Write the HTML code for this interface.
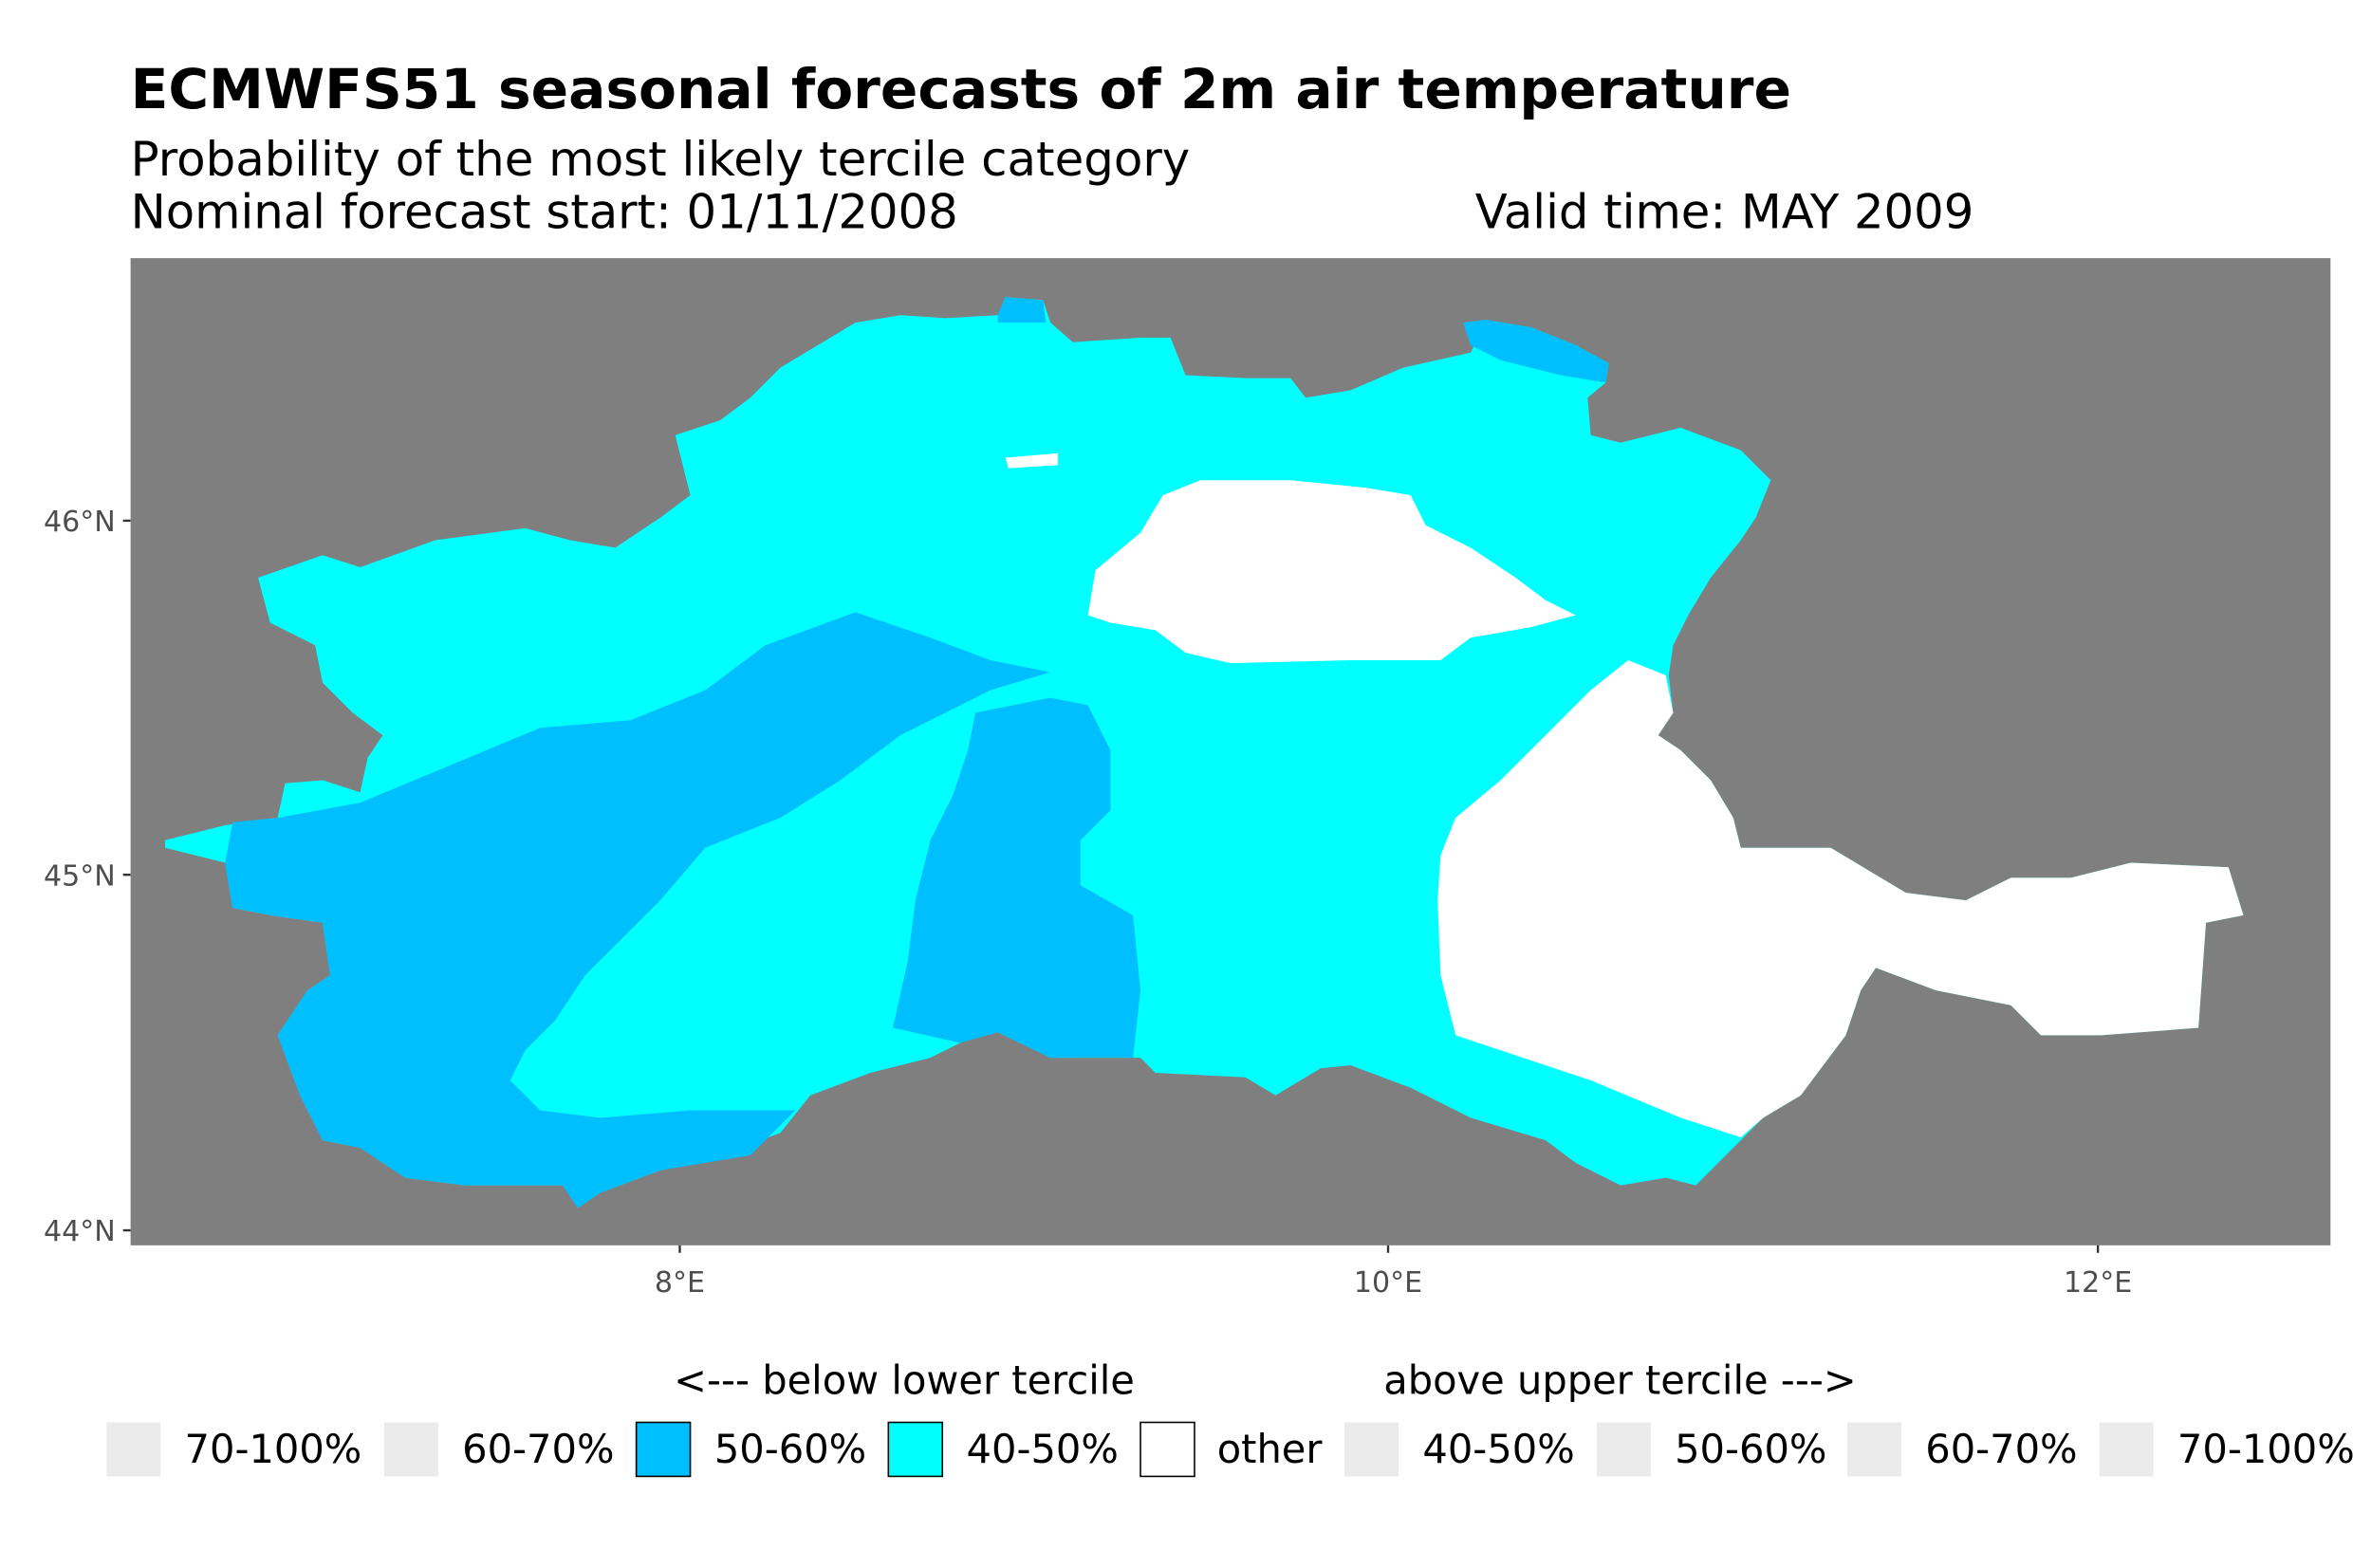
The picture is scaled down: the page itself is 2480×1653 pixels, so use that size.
<!DOCTYPE html>
<html><head><meta charset="utf-8"><style>html,body{margin:0;padding:0;background:#fff}svg{display:block}text{font-family:"DejaVu Sans","Liberation Sans",sans-serif}</style></head>
<body>
<svg width="2480" height="1653" viewBox="0 0 1568 1045" xmlns="http://www.w3.org/2000/svg">
<rect width="1568" height="1045" fill="#fff"/>
<text x="87" y="72" font-size="36.8" font-weight="bold">ECMWFS51 seasonal forecasts of 2m air temperature</text>
<text x="87" y="117" font-size="31.5">Probability of the most likely tercile category</text>
<text x="87" y="152" font-size="31.4">Nominal forecast start: 01/11/2008</text>
<text x="983" y="152" font-size="31.4">Valid time: MAY 2009</text>
<rect x="87" y="172" width="1466" height="658" fill="#7f7f7f"/>
<polygon fill="#00ffff" points="110,560 150,550 185,545 190,522 215,520 240,528 245,505 255,490 235,475 215,455 210,430 180,415 172,385 215,370 240,378 290,360 350,352 380,360 410,365 440,345 460,330 450,290 480,280 500,265 520,245 545,230 570,215 600,210 630,212 665,210 670,198 695,200 700,215 715,228 760,225 780,225 790,250 830,252 860,252 870,265 900,260 935,245 980,235 990,215 1020,218 1050,230 1072,242 1070,255 1058,265 1060,290 1080,295 1120,285 1160,300 1180,320 1170,345 1160,360 1140,385 1125,410 1115,430 1112,450 1115,475 1105,490 1120,500 1140,520 1155,545 1160,565 1220,565 1245,580 1270,595 1310,600 1340,585 1380,585 1420,575 1485,578 1495,610 1470,615 1465,685 1400,690 1360,690 1340,670 1290,660 1250,645 1240,660 1230,690 1200,730 1175,745 1160,760 1130,790 1110,785 1080,790 1050,775 1030,760 980,745 940,725 900,710 880,712 850,730 830,718 770,715 760,705 700,705 665,688 650,690 620,705 580,715 540,730 520,755 480,770 440,780 400,795 385,805 375,790 310,790 270,785 240,765 215,760 200,730 185,690 205,660 220,650 215,615 180,610 155,605 150,575 110,565"/>
<polygon fill="#00bfff" points="155,548 185,545 240,535 300,510 360,485 420,480 470,460 510,430 570,408 620,425 660,440 700,448 660,460 640,470 600,490 560,520 520,545 470,565 440,600 420,620 390,650 370,680 350,700 340,720 360,740 400,745 460,740 530,740 500,770 440,780 400,795 385,805 375,790 310,790 270,785 240,765 215,760 200,730 185,690 205,660 220,650 215,615 180,610 155,605 150,575"/>
<polygon fill="#00bfff" points="650,475 700,465 725,470 740,500 740,540 720,560 720,590 755,610 760,660 755,705 700,705 665,688 640,695 595,685 605,640 610,600 620,560 635,530 645,500"/>
<polygon fill="#00bfff" points="975,215 990,213 1020,218 1050,230 1072,242 1070,255 1040,250 1000,240 980,230"/>
<polygon fill="#00bfff" points="665,210 670,198 695,200 697,215 665,215"/>
<polygon fill="#fff" points="725,410 730,380 760,355 775,330 800,320 860,320 910,325 940,330 950,350 980,365 1010,385 1030,400 1050,410 1020,418 980,425 960,440 900,440 820,442 790,435 770,420 740,415"/>
<polygon fill="#fff" points="670,305 705,302 705,310 672,312"/>
<polygon fill="#fff" points="960,570 970,545 1000,520 1030,490 1060,460 1085,440 1110,450 1115,475 1105,490 1120,500 1140,520 1155,545 1160,565 1220,565 1245,580 1270,595 1310,600 1340,585 1380,585 1420,575 1485,578 1495,610 1470,615 1465,685 1400,690 1360,690 1340,670 1290,660 1250,645 1240,660 1230,690 1200,730 1175,745 1160,758 1120,745 1060,720 1000,700 970,690 960,650 958,600"/>
<g stroke="#333" stroke-width="1.5">
<line x1="82" y1="347" x2="87" y2="347"/><line x1="82" y1="583" x2="87" y2="583"/><line x1="82" y1="820" x2="87" y2="820"/>
<line x1="453" y1="830" x2="453" y2="835"/><line x1="925" y1="830" x2="925" y2="835"/><line x1="1398" y1="830" x2="1398" y2="835"/>
</g>
<g font-size="19" fill="#4d4d4d">
<text x="77" y="354" text-anchor="end">46°N</text><text x="77" y="590" text-anchor="end">45°N</text><text x="77" y="827" text-anchor="end">44°N</text>
<text x="453" y="861" text-anchor="middle">8°E</text><text x="925" y="861" text-anchor="middle">10°E</text><text x="1398" y="861" text-anchor="middle">12°E</text>
</g>
<g font-size="26.3">
<text x="449" y="929">&lt;--- below lower tercile</text>
<text x="922" y="929">above upper tercile ---&gt;</text>
<rect x="71" y="948" width="36" height="36" fill="#ebebeb"/><text x="123" y="975">70-100%</text>
<rect x="256" y="948" width="36" height="36" fill="#ebebeb"/><text x="308" y="975">60-70%</text>
<rect x="424" y="948" width="36" height="36" fill="#00bfff" stroke="#000"/><text x="476" y="975">50-60%</text>
<rect x="592" y="948" width="36" height="36" fill="#00ffff" stroke="#000"/><text x="644" y="975">40-50%</text>
<rect x="760" y="948" width="36" height="36" fill="#fff" stroke="#000"/><text x="811" y="975">other</text>
<rect x="896" y="948" width="36" height="36" fill="#ebebeb"/><text x="948" y="975">40-50%</text>
<rect x="1064" y="948" width="36" height="36" fill="#ebebeb"/><text x="1116" y="975">50-60%</text>
<rect x="1231" y="948" width="36" height="36" fill="#ebebeb"/><text x="1283" y="975">60-70%</text>
<rect x="1399" y="948" width="36" height="36" fill="#ebebeb"/><text x="1451" y="975">70-100%</text>
</g>
</svg>
</body></html>
